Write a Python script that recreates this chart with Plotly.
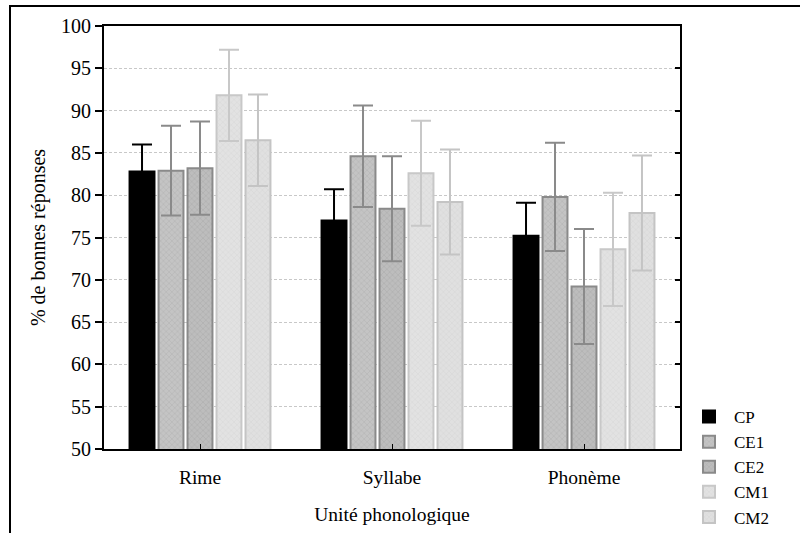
import plotly.graph_objects as go

categories = ["Rime", "Syllabe", "Phonème"]
series = ["CP", "CE1", "CE2", "CM1", "CM2"]
values = {
    "CP":  [82.8, 77.0, 75.2],
    "CE1": [82.9, 84.6, 79.8],
    "CE2": [83.2, 78.4, 69.2],
    "CM1": [91.8, 82.6, 73.6],
    "CM2": [86.5, 79.2, 77.9],
}
errors = {
    "CP":  [3.2, 3.7, 3.9],
    "CE1": [5.3, 6.0, 6.4],
    "CE2": [5.5, 6.2, 6.8],
    "CM1": [5.4, 6.2, 6.7],
    "CM2": [5.4, 6.2, 6.8],
}

styles = {
    "CP":  dict(bg="#000000", fg="#000000", line="#000000", err="#000000", shape=""),
    "CE1": dict(bg="#c4c4c4", fg="#a8a8a8", line="#8a8a8a", err="#8a8a8a", shape="x"),
    "CE2": dict(bg="#bdbdbd", fg="#a0a0a0", line="#8a8a8a", err="#8a8a8a", shape="x"),
    "CM1": dict(bg="#e2e2e2", fg="#d0d0d0", line="#c8c8c8", err="#c8c8c8", shape="x"),
    "CM2": dict(bg="#e0e0e0", fg="#cdcdcd", line="#c4c4c4", err="#c4c4c4", shape="x"),
}

fig = go.Figure()
for s in series:
    st = styles[s]
    fig.add_trace(go.Bar(
        name=s, x=categories, y=values[s],
        marker=dict(color=st["bg"], line=dict(color=st["line"], width=2),
                    pattern=dict(shape=st["shape"], fgcolor=st["fg"], bgcolor=st["bg"],
                                 size=4, solidity=0.3)),
        error_y=dict(type="data", array=errors[s], color=st["err"], thickness=2, width=10),
    ))

font = "Liberation Serif, Times New Roman, serif"
L, T, PW, PH = 104, 26, 576, 423
fig.update_layout(
    width=800, height=533,
    margin=dict(l=L, r=800 - L - PW, t=T, b=533 - T - PH, autoexpand=False),
    paper_bgcolor="white", plot_bgcolor="white",
    font=dict(family=font, size=20, color="black"),
    barmode="group", bargap=0.245, bargroupgap=0.14,
    showlegend=True,
    legend=dict(xref="container", yref="container", x=0.855, y=0.2514,
                xanchor="left", yanchor="top", itemwidth=40,
                font=dict(family=font, size=17), tracegroupgap=0,
                bgcolor="rgba(0,0,0,0)"),
    xaxis=dict(showline=True, linecolor="black", linewidth=2, mirror=True,
               ticks="inside", ticklen=5, tickwidth=1, tickcolor="black",
               tickfont=dict(size=19.5), ticklabelstandoff=10,
               title=dict(text="Unité phonologique", font=dict(size=19.5), standoff=20)),
    yaxis=dict(range=[50, 100], dtick=5, showline=True, linecolor="black", linewidth=2,
               mirror=True, ticks="outside", ticklen=7, tickwidth=2, tickcolor="black",
               tickfont=dict(size=20), showgrid=True, gridcolor="#c8c8c8",
               griddash="3px,2px", gridwidth=1, zeroline=False,
               title=dict(text="% de bonnes réponses", font=dict(size=20), standoff=10)),
    yaxis2=dict(range=[50, 100], dtick=5, overlaying="y", side="right", matches="y",
                ticks="inside", ticklen=5, tickwidth=2, tickcolor="black",
                showticklabels=False, showgrid=False, showline=False, zeroline=False),
)

# outer frame
fig.add_shape(type="rect", xref="paper", yref="paper",
              x0=(10 - L) / PW, x1=(806 - L) / PW,
              y0=(449 - 540) / PH, y1=1 + 20 / PH,
              line=dict(color="black", width=2), fillcolor="rgba(0,0,0,0)", layer="below")

fig.add_trace(go.Scatter(x=[categories[0]], y=[None], yaxis="y2", showlegend=False,
                         hoverinfo="skip", mode="markers"))

fig.write_html("out.html", config={"displayModeBar": False},
               post_script="document.body.style.margin='0';document.body.style.overflow='hidden';")
